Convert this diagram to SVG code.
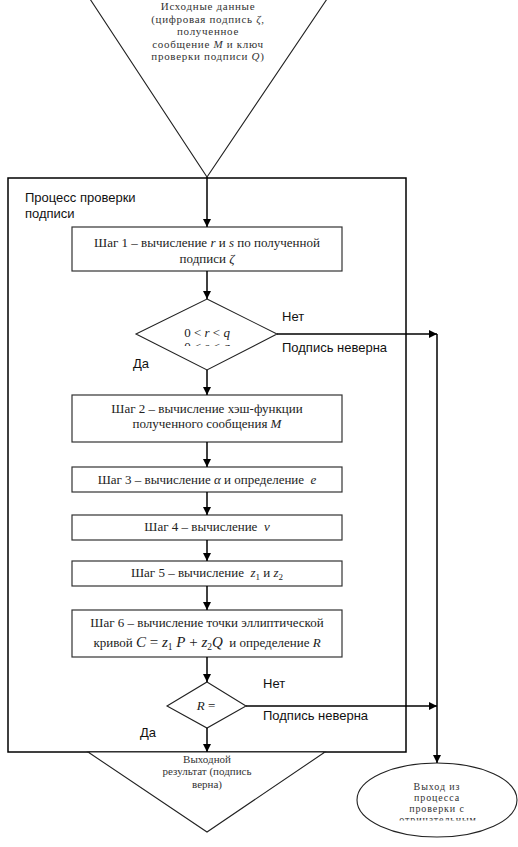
<svg xmlns="http://www.w3.org/2000/svg" width="518" height="847" viewBox="0 0 518 847">
<style>
.box{fill:#fff;stroke:#333;stroke-width:1.2}
.shape{fill:#fff;stroke:#222;stroke-width:1.1}
.frame{fill:none;stroke:#000;stroke-width:1.5}
.conn{fill:none;stroke:#000;stroke-width:1.5}
.sr{font-family:"Liberation Serif","Times New Roman",serif;font-size:13px;fill:#222}
.sm{font-family:"Liberation Serif","Times New Roman",serif;font-size:11px;fill:#333}
.st{letter-spacing:0.7px}
.se{font-size:10px;letter-spacing:0.9px}
.ss{font-family:"Liberation Sans",Arial,sans-serif;font-size:13px;fill:#111}
.i{font-style:italic}
.c{text-anchor:middle}
</style>
<defs>
<marker id="arr" viewBox="0 0 10 10" refX="10" refY="5" markerWidth="8" markerHeight="8" markerUnits="userSpaceOnUse" orient="auto">
<path d="M0,0 L10,5 L0,10 z" fill="#000"/>
</marker>
<clipPath id="clipD1"><rect x="130" y="300" width="160" height="46"/></clipPath>
<clipPath id="clipE"><rect x="350" y="760" width="170" height="60.5"/></clipPath>
</defs>

<g id="input">
<polygon class="shape" points="90,-1 327,-1 207,177"/>
<text class="sm st c" x="208" y="10">Исходные данные</text>
<text class="sm st c" x="208" y="22.5">(цифровая подпись <tspan class="i">ζ</tspan>,</text>
<text class="sm st c" x="208" y="35">полученное</text>
<text class="sm st c" x="208" y="47.5">сообщение <tspan class="i">M</tspan> и ключ</text>
<text class="sm st c" x="208" y="60">проверки подписи <tspan class="i">Q</tspan>)</text>
</g>

<g id="process">
<rect class="frame" x="8" y="178" width="398" height="574"/>
<text class="ss" x="25" y="202">Процесс проверки</text>
<text class="ss" x="25" y="218">подписи</text>
</g>

<g id="step1">
<rect class="box" x="72" y="227" width="270" height="44"/>
<text class="sr c" x="207" y="247">Шаг 1 – вычисление <tspan class="i">r</tspan> и <tspan class="i">s</tspan> по полученной</text>
<text class="sr c" x="207" y="263">подписи <tspan class="i">ζ</tspan></text>
</g>

<g id="check1">
<polygon class="shape" points="207,299 277,334 207,370 136,334"/>
<text class="sr c" x="207" y="337">0 &lt; <tspan class="i">r</tspan> &lt; <tspan class="i">q</tspan></text>
<text class="sr c" x="207" y="351" clip-path="url(#clipD1)">0 &lt; <tspan class="i">s</tspan> &lt; <tspan class="i">q</tspan></text>
</g>

<g id="step2">
<rect class="box" x="72" y="395" width="270" height="47"/>
<text class="sr c" x="207" y="413">Шаг 2 – вычисление хэш-функции</text>
<text class="sr c" x="207" y="428">полученного сообщения <tspan class="i">M</tspan></text>
</g>

<g id="step3">
<rect class="box" x="72" y="467" width="270" height="25"/>
<text class="sr c" x="207" y="484" xml:space="preserve">Шаг 3 – вычисление <tspan class="i">α</tspan> и определение  <tspan class="i">e</tspan></text>
</g>

<g id="step4">
<rect class="box" x="72" y="515" width="270" height="25"/>
<text class="sr c" x="207" y="531" xml:space="preserve">Шаг 4 – вычисление  <tspan class="i">v</tspan></text>
</g>

<g id="step5">
<rect class="box" x="72" y="561" width="270" height="25"/>
<text class="sr c" x="207" y="577" xml:space="preserve">Шаг 5 – вычисление  <tspan class="i">z</tspan><tspan font-size="9" dy="3">1</tspan><tspan dy="-3"> и </tspan><tspan class="i">z</tspan><tspan font-size="9" dy="3">2</tspan></text>
</g>

<g id="step6">
<rect class="box" x="72" y="610" width="270" height="47"/>
<text class="sr c" x="207" y="627">Шаг 6 – вычисление точки эллиптической</text>
<text class="sr c" x="207" y="647" xml:space="preserve">кривой <tspan class="i" font-size="15">C</tspan><tspan font-size="15"> = </tspan><tspan class="i" font-size="15">z</tspan><tspan font-size="9.5" dy="3">1</tspan><tspan class="i" font-size="15" dy="-3"> P</tspan><tspan font-size="15"> + </tspan><tspan class="i" font-size="15">z</tspan><tspan font-size="9.5" dy="3">2</tspan><tspan class="i" font-size="15" dy="-3">Q</tspan>  и определение <tspan class="i">R</tspan></text>
</g>

<g id="check2">
<polygon class="shape" points="207,682 246,706 207,728 167,706"/>
<text class="sr c" x="206" y="710"><tspan class="i">R</tspan> =</text>
</g>

<g id="output">
<polygon class="shape" points="88,752 325,752 207,832"/>
<text class="sm c" x="207" y="762.5">Выходной</text>
<text class="sm c" x="207" y="775">результат (подпись</text>
<text class="sm c" x="207" y="787.5">верна)</text>
</g>

<g id="exit">
<ellipse class="shape" cx="437" cy="800" rx="80" ry="37"/>
<text class="sm se c" x="437" y="789.5">Выход из</text>
<text class="sm se c" x="437" y="800.7">процесса</text>
<text class="sm se c" x="437" y="811.9">проверки с</text>
<text class="sm se c" x="438" y="823.1" clip-path="url(#clipE)">отрицательным</text>
</g>

<g id="labels">
<text class="ss" x="282" y="321">Нет</text>
<text class="ss" x="282" y="352">Подпись неверна</text>
<text class="ss" x="133" y="368">Да</text>
<text class="ss" x="263" y="688">Нет</text>
<text class="ss" x="263" y="720">Подпись неверна</text>
<text class="ss" x="140" y="737">Да</text>
</g>

<g id="connectors">
<line class="conn" x1="207" y1="177" x2="207" y2="227" marker-end="url(#arr)"/>
<line class="conn" x1="207" y1="271" x2="207" y2="299" marker-end="url(#arr)"/>
<line class="conn" x1="207" y1="370" x2="207" y2="395" marker-end="url(#arr)"/>
<line class="conn" x1="207" y1="442" x2="207" y2="467" marker-end="url(#arr)"/>
<line class="conn" x1="207" y1="492" x2="207" y2="515" marker-end="url(#arr)"/>
<line class="conn" x1="207" y1="540" x2="207" y2="561" marker-end="url(#arr)"/>
<line class="conn" x1="207" y1="586" x2="207" y2="610" marker-end="url(#arr)"/>
<line class="conn" x1="207" y1="657" x2="207" y2="682" marker-end="url(#arr)"/>
<line class="conn" x1="207" y1="728" x2="207" y2="752" marker-end="url(#arr)"/>
<line class="conn" x1="277" y1="334" x2="437" y2="334" marker-end="url(#arr)"/>
<line class="conn" x1="246" y1="706" x2="437" y2="706" marker-end="url(#arr)"/>
<line class="conn" x1="437" y1="334" x2="437" y2="763" marker-end="url(#arr)"/>
</g>
</svg>
